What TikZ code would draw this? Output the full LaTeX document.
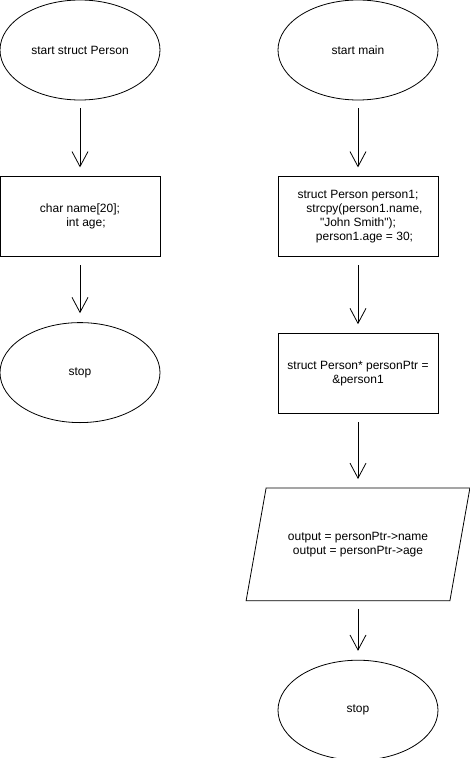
\documentclass[tikz,border=0pt]{standalone}
\usepackage{fontspec}
\setmainfont{Liberation Sans}
\usetikzlibrary{positioning, shapes.geometric, arrows.meta}

\begin{document}
\begin{tikzpicture}[x=1pt, y=1pt, thick, font=\fontsize{12}{14}\selectfont,
  >={Straight Barb[length=15pt, width=16pt]},
  term/.style = {draw, ellipse, minimum width=160pt, minimum height=100pt, inner sep=0pt},
  proc/.style = {draw, rectangle, minimum width=160pt, minimum height=80pt, align=center},
  io/.style = {rectangle, minimum width=203pt, minimum height=112pt, align=center},
  flow/.style = {->, shorten <=8pt, shorten >=9pt}]
\useasboundingbox (0,0) rectangle (470,-758);

% struct Person
\node[term] (startP) at (80,-50) {start struct Person};
\node[proc] (fields) [below=76pt of startP] {char name[20];\\ \hspace*{12pt}int age;};
\node[term] (stopP) [below=65pt of fields] {stop};

% main
\node[term] (startM) at (358,-50) {start main};
\node[proc] (init) [below=76pt of startM] {struct Person person1;\\ \hspace*{13pt}strcpy(person1.name,\\ \textquotedbl John Smith\textquotedbl);\\ \hspace*{13pt}person1.age = 30;};
\node[proc] (ptr) [below=76pt of init] {struct Person* personPtr =\\ \&person1};
\node[io] (out) [below=74pt of ptr] {output = personPtr->name\\ output = personPtr->age};
\draw ([xshift=10pt]out.north west) -- ([xshift=10pt]out.north east)
  -- ([xshift=-10pt]out.south east) -- ([xshift=-10pt]out.south west) -- cycle;
\node[term] (stopM) [below=59pt of out] {stop};

\draw [flow] (startP) -- (fields);
\draw [flow] (fields) -- (stopP);
\draw [flow] (startM) -- (init);
\draw [flow] (init) -- (ptr);
\draw [flow] (ptr) -- (out);
\draw [flow] (out) -- (stopM);

\end{tikzpicture}
\end{document}
